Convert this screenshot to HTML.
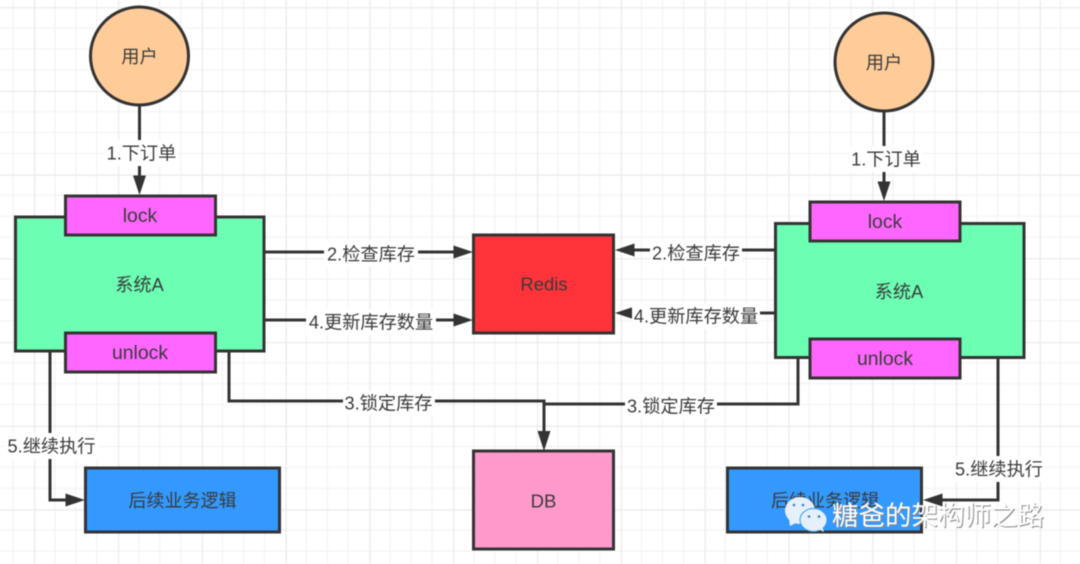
<!DOCTYPE html>
<html>
<head>
<meta charset="utf-8">
<style>
html,body{margin:0;padding:0;background:#fff;width:1080px;height:564px;overflow:hidden}
svg{display:block;filter:blur(.45px)}
text{font-family:"Liberation Sans","Noto Sans CJK SC",sans-serif;font-size:18.2px;fill:#3a3a3a;text-anchor:middle;dominant-baseline:central}
.s{stroke:#333;stroke-width:3;fill:none}
.b{stroke:#333;stroke-width:3}
.a{fill:#333}
.l{font-size:19.4px}
</style>
</head>
<body>
<svg width="1080" height="564" viewBox="0 0 1080 564" xmlns="http://www.w3.org/2000/svg">
<defs>
<pattern id="g" width="83.8" height="83.7" patternUnits="userSpaceOnUse" x="34" y="7">
<path d="M20.95 0V83.7M41.9 0V83.7M62.85 0V83.7M0 20.9H83.8M0 41.85H83.8M0 62.8H83.8" stroke="#f3f3f3" stroke-width="1.3" fill="none"/>
<path d="M0 0V83.7M0 0H83.8" stroke="#ededed" stroke-width="3" fill="none"/>
</pattern>
</defs>
<rect width="1080" height="564" fill="#fff"/>
<rect width="1080" height="564" fill="url(#g)"/>

<!-- connectors -->
<path class="s" d="M139.5 105V178"/>
<path class="a" d="M139.5 195L133 175.500H146Z"/>
<path class="s" d="M884 111V183"/>
<path class="a" d="M884 201L877.500 181.500H890.500Z"/>
<path class="s" d="M264 252H456"/>
<path class="a" d="M473 252L453.500 245.500V258.500Z"/>
<path class="s" d="M264 320H456"/>
<path class="a" d="M473 320L453.500 313.500V326.500Z"/>
<path class="s" d="M775 250H632"/>
<path class="a" d="M615 250L634.500 243.500V256.500Z"/>
<path class="s" d="M775 313H632"/>
<path class="a" d="M615 313L634.500 306.500V319.500Z"/>
<path class="s" d="M229 351V401H544V434"/>
<path class="s" d="M798 358V404H544"/>
<path class="a" d="M544 451L537.500 431H550.500Z"/>
<path class="s" d="M50 351V500H68"/>
<path class="a" d="M85 500L65.500 493.500V506.500Z"/>
<path class="s" d="M998 358V500H940"/>
<path class="a" d="M923 500L942.500 493.500V506.500Z"/>

<!-- users -->
<circle class="b" cx="139.500" cy="56" r="49" fill="#FFCC99"/>
<text x="139.500" y="57">用户</text>
<circle class="b" cx="884" cy="62" r="49" fill="#FFCC99"/>
<text x="884" y="63">用户</text>

<!-- left system -->
<rect class="b" x="15.500" y="217" width="248.500" height="134" fill="#6CFFB3"/>
<text x="139.500" y="285">系统A</text>
<rect class="b" x="65.500" y="196" width="150" height="39" fill="#FF66FF"/>
<text class="l" x="140" y="216.200">lock</text>
<rect class="b" x="65.500" y="333" width="150" height="39" fill="#FF66FF"/>
<text class="l" x="140" y="353.200">unlock</text>

<!-- right system -->
<rect class="b" x="775.500" y="223.500" width="248.500" height="134" fill="#6CFFB3"/>
<text x="899" y="292">系统A</text>
<rect class="b" x="810" y="202" width="150" height="39" fill="#FF66FF"/>
<text class="l" x="885" y="222.200">lock</text>
<rect class="b" x="810" y="339" width="150" height="39" fill="#FF66FF"/>
<text class="l" x="885" y="359.200">unlock</text>

<!-- center -->
<rect class="b" x="473.500" y="235" width="140" height="98" fill="#FF3339"/>
<text x="544" y="284" style="font-size:18.500px">Redis</text>
<rect class="b" x="473.500" y="451" width="140" height="98" fill="#FF99CC"/>
<text x="543.500" y="501" style="font-size:18.500px">DB</text>

<!-- bottom boxes -->
<rect class="b" x="85.500" y="468" width="194" height="64" fill="#3399FF"/>
<text x="182.500" y="501" style="font-size:18px">后续业务逻辑</text>
<rect class="b" x="727.500" y="468" width="194" height="64" fill="#3399FF"/>
<text x="825" y="501" style="font-size:18px">后续业务逻辑</text>

<!-- label backgrounds -->
<g fill="#fff">
<rect x="105" y="140" width="73" height="26"/>
<rect x="849" y="146" width="73" height="26"/>
<rect x="324" y="241" width="94" height="26"/>
<rect x="306" y="309" width="130" height="26"/>
<rect x="650" y="241" width="92" height="26"/>
<rect x="632" y="303" width="128" height="26"/>
<rect x="343" y="391" width="92" height="24"/>
<rect x="625" y="394" width="92" height="24"/>
<rect x="5" y="433" width="93" height="26"/>
<rect x="953" y="456" width="92" height="26"/>
</g>
<text x="141.500" y="153.500">1.下订单</text>
<text x="886" y="159.500">1.下订单</text>
<text x="371" y="254.500">2.检查库存</text>
<text x="371" y="322.500">4.更新库存数量</text>
<text x="696" y="253.500">2.检查库存</text>
<text x="696" y="316.500">4.更新库存数量</text>
<text x="388.500" y="403.500">3.锁定库存</text>
<text x="671" y="406.500">3.锁定库存</text>
<text x="51.500" y="446.500">5.继续执行</text>
<text x="999" y="469.500">5.继续执行</text>

<!-- watermark -->
<g fill="#e6f0fb">
<ellipse cx="800" cy="510.500" rx="15" ry="13.500"/>
<path d="M789 519L790 526L798 522Z"/>
<ellipse cx="813.500" cy="520" rx="13.500" ry="11.500" stroke="#3399FF" stroke-width="1"/>
<path d="M818 529L824 532L822 526Z"/>
</g>
<g fill="#3a7bc8">
<circle cx="794" cy="505" r="1.300"/><circle cx="803" cy="505" r="1.300"/>
<circle cx="809" cy="516.500" r="1.300"/><circle cx="819" cy="516.500" r="1.300"/>
</g>
<text x="938" y="516" style="font-size:26.500px;fill:#888" dx="1" dy="1">糖爸的架构师之路</text>
<text x="938" y="516" style="font-size:26.500px;fill:#fff">糖爸的架构师之路</text>
</svg>
</body>
</html>
